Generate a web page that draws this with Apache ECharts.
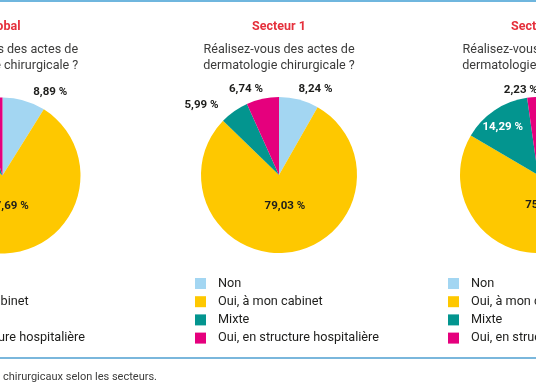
<!DOCTYPE html>
<html>
<head>
<meta charset="utf-8">
<script src="https://cdn.jsdelivr.net/npm/echarts@6/dist/echarts.min.js"></script>
<style>
html,body{margin:0;padding:0;background:#fff;}
#chart{width:536px;height:386px;}
</style>
</head>
<body>
<div id="chart"></div>
<script>
// ---- data ----
const categories = ['Non', 'Oui, à mon cabinet', 'Mixte', 'Oui, en structure hospitalière'];
const panelTitles = ['Global', 'Secteur 1', 'Secteur 2'];
const questionLines = ['Réalisez-vous des actes de', 'dermatologie chirurgicale ?'];
const globalValues = [8.89, 77.69, 8.52, 4.90];
const secteur1Values = [8.24, 79.03, 5.99, 6.74];
const secteur2Values = [8.48, 75.00, 14.29, 2.23];
const captionText = 'chirurgicaux selon les secteurs.';

// ---- styles / layout ----
const colors = ['#a3d6f2', '#fec800', '#03958f', '#e5007d'];
const pieCenters = [[2.5, 175.5], [279, 175], [538, 175]];
const legendLefts = [-99, 195, 448];
// which labels sit inside the slice
const insideFlags = [
  [false, true, false, false],
  [false, true, false, false],
  [false, true, true, false]
];
// white label text flags
const whiteFlags = [
  [false, false, false, false],
  [false, false, false, false],
  [false, false, true, false]
];
// fine offsets of each label
const labelShift = [
  [[6.5, 1], [0, -11], [0, 0], [0, 0]],
  [[-3, -1], [0, -10.5], [-10, 2], [2.5, 0]],
  [[-3, -1], [-3, -11], [-12, -12.5], [6, 3]]
];

const allValues = [globalValues, secteur1Values, secteur2Values];
const fmt = v => v.toFixed(2).replace('.', ',') + ' %';

const series = allValues.map((vals, s) => ({
  type: 'pie',
  center: pieCenters[s],
  radius: 78,
  startAngle: 90,
  clockwise: true,
  avoidLabelOverlap: false,
  silent: true,
  label: {
    show: true,
    position: 'outside',
    formatter: p => fmt(p.value),
    fontFamily: 'Roboto',
    fontWeight: 'bold',
    fontSize: 11.5,
    color: '#1d1d1b',
    distanceToLabelLine: 0
  },
  labelLine: { show: false, length: 10, length2: 0 },
  labelLayout: p => {
    const sh = labelShift[s][p.dataIndex];
    return { dx: sh[0], dy: sh[1] };
  },
  data: categories.map((c, i) => ({
    name: c,
    value: vals[i],
    itemStyle: { color: colors[i] },
    label: {
      position: insideFlags[s][i] ? 'inside' : 'outside',
      color: whiteFlags[s][i] ? '#ffffff' : '#1d1d1b'
    }
  }))
}));

const legends = legendLefts.map(l => ({
  orient: 'vertical',
  left: l,
  top: 277,
  padding: 0,
  itemWidth: 11,
  itemHeight: 11,
  itemGap: 5.2,
  icon: 'rect',
  selectedMode: false,
  data: categories,
  textStyle: { fontFamily: 'Roboto', fontSize: 12.7, color: '#1d1d1b', padding: [0, 0, 0, 7] }
}));

const graphics = [];
graphics.push({ type: 'rect', shape: { x: 0, y: 0, width: 536, height: 2 }, style: { fill: '#6fb6de' } });
graphics.push({ type: 'rect', shape: { x: 0, y: 357, width: 536, height: 2 }, style: { fill: '#7ab7dc' } });
pieCenters.forEach((c, s) => {
  graphics.push({ type: 'text', x: c[0], y: 27,
    style: { text: panelTitles[s], fontFamily: 'Roboto', fontWeight: 'bold', fontSize: 12.5, fill: '#e5303c', textAlign: 'center', textVerticalAlign: 'middle' } });
  questionLines.forEach((q, k) => {
    graphics.push({ type: 'text', x: c[0], y: 50 + k * 15.5,
      style: { text: q, fontFamily: 'Roboto', fontSize: 12.6, fill: '#3c3c3b', textAlign: 'center', textVerticalAlign: 'middle' } });
  });
});
graphics.push({ type: 'text', x: 3, y: 377,
  style: { text: captionText, fontFamily: 'Roboto', fontSize: 11, fill: '#3c3c3b', textAlign: 'left', textVerticalAlign: 'middle' } });

const chart = echarts.init(document.getElementById('chart'), null, { renderer: 'canvas' });
chart.setOption({
  animation: false,
  backgroundColor: '#ffffff',
  legend: legends,
  series: series,
  graphic: graphics
});
</script>
</body>
</html>
